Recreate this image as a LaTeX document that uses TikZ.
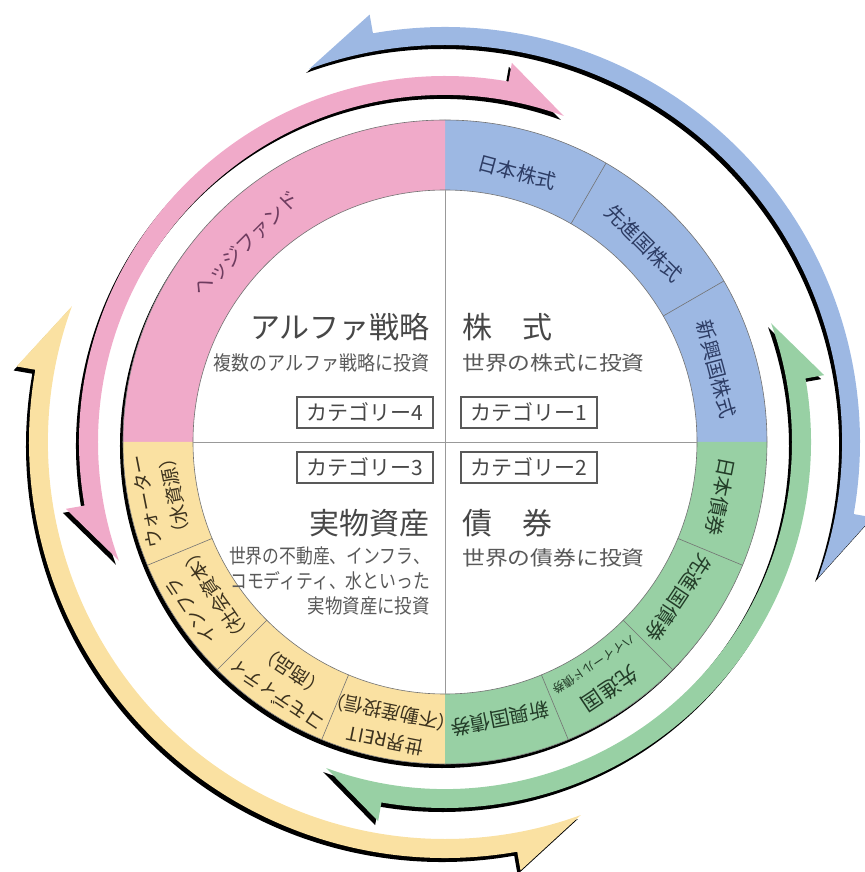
\documentclass[tikz,border=0pt]{standalone}
\usepackage{fontspec}
\setmainfont{Noto Sans CJK JP}
\usetikzlibrary{positioning}
\definecolor{pinkRing}{RGB}{240,170,201}
\definecolor{blueRing}{RGB}{157,184,227}
\definecolor{greenRing}{RGB}{152,208,164}
\definecolor{yellowRing}{RGB}{250,225,162}
\definecolor{pinkText}{RGB}{110,60,95}
\definecolor{blueText}{RGB}{45,60,100}
\definecolor{greenText}{RGB}{35,60,40}
\definecolor{yellowText}{RGB}{60,50,30}
\tikzstyle{ringLine} = [draw=black!55, line width=0.6]
\tikzstyle{crossLine} = [draw=black!40, line width=0.8]
\tikzstyle{ringText} = [font=\fontsize{20}{22}\selectfont, inner sep=0pt, align=center]
\tikzstyle{twoLine} = [font=\fontsize{19}{29}\selectfont]
\tikzstyle{titleText} = [font=\fontsize{30}{34}\selectfont, text=black!72, inner sep=0pt]
\tikzstyle{noteText} = [font=\fontsize{20}{25}\selectfont, text=black!65, inner sep=0pt]
\tikzstyle{catBox} = [draw=black!65, line width=1.1, minimum width=136, minimum height=31, inner sep=0pt, font=\fontsize{21}{22}\selectfont, text=black!72]
\tikzstyle{arrowShadow} = [fill=black, shift={(-3,-4)}]
\newcommand{\rIn}{252}
\newcommand{\rOut}{322}
\newcommand{\ringQuarter}[3]{\fill[#1] (#2:\rIn) arc[start angle=#2, end angle=#3, radius=\rIn] -- (#3:\rOut) arc[start angle=#3, end angle=#2, radius=\rOut] -- cycle;}
\newcommand{\ringDivider}[1]{\draw[ringLine] (#1:\rIn) -- (#1:\rOut);}
\newcommand{\ringLabel}[6][]{\node[ringText, #1, text=#6, rotate=#3-90] (#2) at (#3:#4) {#5};}
% colour, inner radius, outer radius, start angle, end angle
\newcommand{\cycleArrow}[5]{
  \fill[arrowShadow] ({#4}:{#2}) arc[start angle={#4}, end angle={#5}, radius={#2}] -- ({#5-10}:{#3+19}) -- ({#5-10}:{#3}) arc[start angle={#5-10}, end angle={#4+10}, radius={#3}] -- ({#4+10}:{#3+19}) -- cycle;
  \fill[#1] ({#4}:{#2}) arc[start angle={#4}, end angle={#5}, radius={#2}] -- ({#5-10}:{#3+19}) -- ({#5-10}:{#3}) arc[start angle={#5-10}, end angle={#4+10}, radius={#3}] -- ({#4+10}:{#3+19}) -- cycle;
}

\begin{document}
\begin{tikzpicture}[x=1pt, y=1pt]
  \useasboundingbox (-445,-430) rectangle (419,442);

  % arrows round the ring
  \cycleArrow{blueRing}{397}{415}{-20}{110}
  \cycleArrow{pinkRing}{347}{366}{70}{200}
  \cycleArrow{yellowRing}{397}{416}{160}{290}
  \cycleArrow{greenRing}{347}{366}{-110}{20}

  % ring
  \fill[black] (-3,-4) circle[radius=\rOut];
  \fill[white] (0,0) circle[radius=\rOut];
  \ringQuarter{blueRing}{0}{90}
  \ringQuarter{pinkRing}{90}{180}
  \ringQuarter{yellowRing}{180}{270}
  \ringQuarter{greenRing}{270}{360}
  \draw[ringLine] (0,0) circle[radius=\rIn];
  \draw[ringLine] (0,0) circle[radius=\rOut];
  \foreach \a in {30,60,202.5,225,247.5,-22.5,-45,-67.5}
    \ringDivider{\a}
  \draw[crossLine] (0,\rIn) -- (0,-\rIn);
  \draw[crossLine] (-\rIn,0) -- (\rIn,0);

  % ring labels
  \ringLabel{hedgeFund}{135}{281}{ヘッジファンド}{pinkText}
  \ringLabel{jpStock}{75}{279}{日本株式}{blueText}
  \ringLabel{dvStock}{45}{281}{先進国株式}{blueText}
  \ringLabel{emStock}{15}{281}{新興国株式}{blueText}
  \ringLabel{jpBond}{-11.25}{281}{日本債券}{greenText}
  \ringLabel{dvBond}{-33.75}{281}{先進国債券}{greenText}
  \ringLabel[font=\fontsize{21}{22}\selectfont]{hyBondTop}{-56.25}{297}{先進国}{greenText}
  \ringLabel[font=\fontsize{12}{14}\selectfont]{hyBondSub}{-56.25}{268}{ハイイールド債券}{greenText}
  \ringLabel{emBond}{-78.75}{282}{新興国債券}{greenText}
  \ringLabel[twoLine]{water}{191.25}{290}{ウォーター\\（水資源）}{yellowText}
  \ringLabel[twoLine]{infra}{213.75}{290}{インフラ\\（社会資本）}{yellowText}
  \ringLabel[twoLine]{commodity}{236.25}{290}{コモディティ\\（商品）}{yellowText}
  \ringLabel[twoLine]{reit}{258.75}{290}{世界REIT\\（不動産投信）}{yellowText}

  % centre texts
  \node[titleText, anchor=east] (alphaTitle) at (-15,115) {アルファ戦略};
  \node[noteText, anchor=east] (alphaNote) at (-15,79) {\scalebox{0.9}[1]{複数のアルファ戦略に投資}};
  \node[catBox] (catFour) at (-80,29.5) {カテゴリー4};
  \node[titleText, anchor=west] (stockTitle) at (17,115) {株　式};
  \node[noteText, anchor=west] (stockNote) at (17,79) {\scalebox{1.14}[1]{世界の株式に投資}};
  \node[catBox] (catOne) at (84,29.5) {カテゴリー1};
  \node[catBox] (catThree) at (-80,-25.5) {カテゴリー3};
  \node[catBox] (catTwo) at (84,-25.5) {カテゴリー2};
  \node[titleText, anchor=east] (realTitle) at (-15,-81) {実物資産};
  \node[noteText, anchor=north east, align=right] (realNote) at (-15,-104) {\scalebox{0.84}[1]{世界の不動産、インフラ、}\\\scalebox{0.84}[1]{コモディティ、水といった}\\\scalebox{0.87}[1]{実物資産に投資}};
  \node[titleText, anchor=west] (bondTitle) at (17,-81) {債　券};
  \node[noteText, anchor=west] (bondNote) at (17,-116) {\scalebox{1.14}[1]{世界の債券に投資}};
\end{tikzpicture}
\end{document}
